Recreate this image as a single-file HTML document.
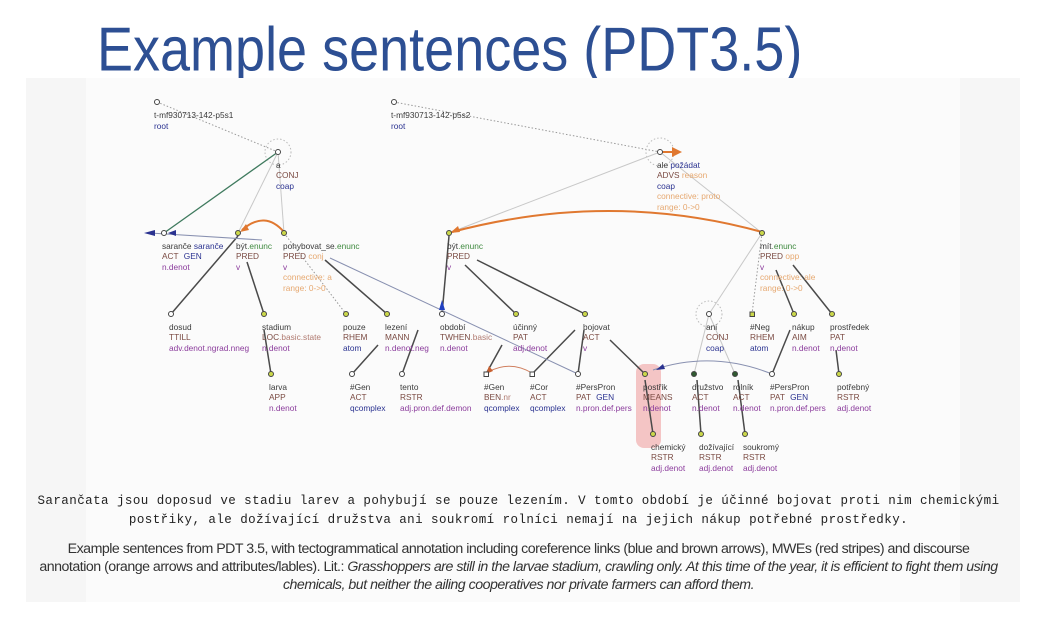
<!DOCTYPE html>
<html><head><meta charset="utf-8"><style>
body{margin:0;width:1037px;height:624px;background:#fff;overflow:hidden;position:relative;font-family:"Liberation Sans",sans-serif}
.title{position:absolute;left:97px;top:14px;font-size:54px;color:#2d4f93;transform:scaleY(1.15);transform-origin:0 0}
.panel{position:absolute;left:26px;top:78px;width:994px;height:524px;background:#f6f6f6}
.inner{position:absolute;left:60px;top:0;width:874px;height:524px;background:#fbfbfb}
svg{position:absolute;left:0;top:0}
svg text{font-family:"Liberation Sans",sans-serif;font-size:8.3px}
.l{fill:#3a3a3a}.f{fill:#7a4a42}.p{fill:#8b3c9c}.g{fill:#3f8a3f}.o{fill:#e6a870}.b{fill:#2a3290}
.mono{position:absolute;left:0;width:1037px;text-align:center;font-family:"Liberation Mono",monospace;font-size:12.5px;letter-spacing:0.45px;color:#222;white-space:nowrap}
.cap{position:absolute;left:0;width:1037px;text-align:center;font-size:14.2px;color:#333;letter-spacing:-0.5px;white-space:nowrap}
</style></head><body>
<div class="title">Example sentences (PDT3.5)</div>
<div class="panel"><div class="inner"></div></div>
<svg width="1037" height="624">
<rect x="636" y="364" width="25" height="84" rx="8" fill="#f2b8b8" opacity="0.8"/>
<g stroke="#999" stroke-dasharray="1.5,2" fill="none">
<line x1="157" y1="102" x2="278" y2="152"/>
<line x1="394" y1="102" x2="660" y2="152"/>
<line x1="284" y1="233" x2="346" y2="314"/>
<line x1="762" y1="233" x2="752" y2="314"/>
<circle cx="278" cy="152" r="13" stroke="#bbb"/>
<circle cx="660" cy="152" r="14" stroke="#bbb"/>
<circle cx="709" cy="314" r="13" stroke="#bbb"/>
</g>
<g stroke="#c8c8c8" stroke-width="1" fill="none">
<line x1="278" y1="152" x2="238" y2="233"/>
<line x1="278" y1="152" x2="284" y2="233"/>
<line x1="660" y1="152" x2="449" y2="233"/>
<line x1="660" y1="152" x2="762" y2="233"/>
<line x1="762" y1="233" x2="709" y2="314"/>
<line x1="709" y1="314" x2="694" y2="374"/>
<line x1="709" y1="314" x2="735" y2="374"/>
</g>
<line x1="278" y1="152" x2="164" y2="233" stroke="#3f7a5e" stroke-width="1.3"/>
<g stroke="#4a4a4a" stroke-width="1.5" fill="none">
<line x1="238" y1="236" x2="171" y2="314"/>
<line x1="247" y1="262" x2="264" y2="314"/>
<line x1="264" y1="330" x2="271" y2="374"/>
<line x1="325" y1="260" x2="387" y2="314"/>
<line x1="378" y1="345" x2="352" y2="374"/>
<line x1="418" y1="330" x2="402" y2="374"/>
<line x1="449" y1="236" x2="442" y2="314"/>
<line x1="465" y1="265" x2="516" y2="314"/>
<line x1="477" y1="260" x2="585" y2="314"/>
<line x1="502" y1="345" x2="486" y2="374"/>
<line x1="575" y1="330" x2="532" y2="374"/>
<line x1="584" y1="330" x2="578" y2="374"/>
<line x1="610" y1="340" x2="645" y2="374"/>
<line x1="645" y1="380" x2="653" y2="434"/>
<line x1="697" y1="380" x2="701" y2="434"/>
<line x1="738" y1="380" x2="745" y2="434"/>
<line x1="776" y1="270" x2="794" y2="314"/>
<line x1="793" y1="265" x2="832" y2="314"/>
<line x1="790" y1="330" x2="772" y2="374"/>
<line x1="836" y1="350" x2="839" y2="374"/>
</g>
<g stroke="#8890b0" stroke-width="1" fill="none">
<line x1="262" y1="240" x2="150" y2="233"/>
<line x1="330" y1="258" x2="578" y2="374"/>
<path d="M772 374 Q712 350 653 370"/>
</g>
<polygon points="144,233 155,230 155,236" fill="#2a3290"/>
<polygon points="168,233 176,230 176,236" fill="#2a3290"/>
<polygon points="442,300 439,310 445,310" fill="#2040c0"/>
<polygon points="656,370 663,364 665,369" fill="#2a3290"/>
<g fill="none" stroke="#e07830" stroke-width="2">
<path d="M284 232 Q265 210 242 230"/>
<path d="M762 232 Q610 190 452 232"/>
<line x1="662" y1="152" x2="676" y2="152"/>
</g>
<polygon points="240,232 246,224 249,230" fill="#e07830"/>
<polygon points="450,233 458,226 460,232" fill="#e07830"/>
<polygon points="682,152 672,147 672,157" fill="#e07830"/>
<path d="M532 373 Q510 360 488 372" stroke="#d08060" fill="none"/>
<polygon points="486,374 489,366 493,371" fill="#c86030"/>
<g stroke="#444" stroke-width="1">
<g fill="#fff">
<circle cx="157" cy="102" r="2.5"/><circle cx="394" cy="102" r="2.5"/>
<circle cx="278" cy="152" r="2.5"/><circle cx="660" cy="152" r="2.5"/>
<circle cx="164" cy="233" r="2.5"/><circle cx="171" cy="314" r="2.5"/>
<circle cx="442" cy="314" r="2.5"/><circle cx="709" cy="314" r="2.5"/>
<circle cx="352" cy="374" r="2.5"/><circle cx="402" cy="374" r="2.5"/>
<rect x="484" y="372" width="4.5" height="4.5"/><rect x="530" y="372" width="4.5" height="4.5"/>
<circle cx="578" cy="374" r="2.5"/><circle cx="772" cy="374" r="2.5"/>
</g>
<g fill="#cbd84a">
<circle cx="238" cy="233" r="2.5"/><circle cx="284" cy="233" r="2.5"/>
<circle cx="449" cy="233" r="2.5"/><circle cx="762" cy="233" r="2.5"/>
<circle cx="264" cy="314" r="2.5"/><circle cx="346" cy="314" r="2.5"/>
<circle cx="387" cy="314" r="2.5"/><circle cx="516" cy="314" r="2.5"/>
<circle cx="585" cy="314" r="2.5"/><rect x="750" y="312" width="4.5" height="4.5"/>
<circle cx="794" cy="314" r="2.5"/><circle cx="832" cy="314" r="2.5"/>
<circle cx="271" cy="374" r="2.5"/><circle cx="645" cy="374" r="2.5"/>
<circle cx="839" cy="374" r="2.5"/><circle cx="653" cy="434" r="2.5"/>
<circle cx="701" cy="434" r="2.5"/><circle cx="745" cy="434" r="2.5"/>
</g>
<g fill="#2f5a30"><circle cx="694" cy="374" r="2.5"/><circle cx="735" cy="374" r="2.5"/></g>
</g>
<text x="154" y="118" class="l">t-mf930713-142-p5s1</text><text x="154" y="129" class="b">root</text>
<text x="391" y="118" class="l">t-mf930713-142-p5s2</text><text x="391" y="129" class="b">root</text>
<text x="276" y="168" class="l">a</text><text x="276" y="178" class="f">CONJ</text><text x="276" y="189" class="b">coap</text>
<text x="657" y="168"><tspan class="l">ale</tspan> <tspan class="b">požádat</tspan></text>
<text x="657" y="178"><tspan class="f">ADVS</tspan> <tspan class="o">reason</tspan></text>
<text x="657" y="189" class="b">coap</text><text x="657" y="199" class="o">connective: proto</text><text x="657" y="210" class="o">range: 0-&gt;0</text>
<text x="162" y="249"><tspan class="l">saranče</tspan> <tspan class="b">saranče</tspan></text>
<text x="162" y="259"><tspan class="f">ACT</tspan> <tspan class="b" dx="3">GEN</tspan></text><text x="162" y="270" class="p">n.denot</text>
<text x="236" y="249"><tspan class="l">být</tspan><tspan class="g">.enunc</tspan></text><text x="236" y="259" class="f">PRED</text><text x="236" y="270" class="p">v</text>
<text x="283" y="249"><tspan class="l">pohybovat_se</tspan><tspan class="g">.enunc</tspan></text>
<text x="283" y="259"><tspan class="f">PRED</tspan> <tspan class="o">conj</tspan></text><text x="283" y="270" class="p">v</text>
<text x="283" y="280" class="o">connective: a</text><text x="283" y="291" class="o">range: 0-&gt;0</text>
<text x="447" y="249"><tspan class="l">být</tspan><tspan class="g">.enunc</tspan></text><text x="447" y="259" class="f">PRED</text><text x="447" y="270" class="p">v</text>
<text x="760" y="249"><tspan class="l">mít</tspan><tspan class="g">.enunc</tspan></text>
<text x="760" y="259"><tspan class="f">PRED</tspan> <tspan class="o">opp</tspan></text><text x="760" y="270" class="p">v</text>
<text x="760" y="280" class="o">connective: ale</text><text x="760" y="291" class="o">range: 0-&gt;0</text>
<text x="169" y="330" class="l">dosud</text><text x="169" y="340" class="f">TTILL</text><text x="169" y="351" class="p">adv.denot.ngrad.nneg</text>
<text x="262" y="330" class="l">stadium</text><text x="262" y="340"><tspan class="f">LOC</tspan><tspan style="fill:#b07a70">.basic.state</tspan></text><text x="262" y="351" class="p">n.denot</text>
<text x="343" y="330" class="l">pouze</text><text x="343" y="340" class="f">RHEM</text><text x="343" y="351" class="b">atom</text>
<text x="385" y="330" class="l">lezení</text><text x="385" y="340" class="f">MANN</text><text x="385" y="351" class="p">n.denot.neg</text>
<text x="440" y="330" class="l">období</text><text x="440" y="340"><tspan class="f">TWHEN</tspan><tspan style="fill:#b07a70">.basic</tspan></text><text x="440" y="351" class="p">n.denot</text>
<text x="513" y="330" class="l">účinný</text><text x="513" y="340" class="f">PAT</text><text x="513" y="351" class="p">adj.denot</text>
<text x="583" y="330" class="l">bojovat</text><text x="583" y="340" class="f">ACT</text><text x="583" y="351" class="p">v</text>
<text x="706" y="330" class="l">ani</text><text x="706" y="340" class="f">CONJ</text><text x="706" y="351" class="b">coap</text>
<text x="750" y="330" class="l">#Neg</text><text x="750" y="340" class="f">RHEM</text><text x="750" y="351" class="b">atom</text>
<text x="792" y="330" class="l">nákup</text><text x="792" y="340" class="f">AIM</text><text x="792" y="351" class="p">n.denot</text>
<text x="830" y="330" class="l">prostředek</text><text x="830" y="340" class="f">PAT</text><text x="830" y="351" class="p">n.denot</text>
<text x="269" y="390" class="l">larva</text><text x="269" y="400" class="f">APP</text><text x="269" y="411" class="p">n.denot</text>
<text x="350" y="390" class="l">#Gen</text><text x="350" y="400" class="f">ACT</text><text x="350" y="411" class="b">qcomplex</text>
<text x="400" y="390" class="l">tento</text><text x="400" y="400" class="f">RSTR</text><text x="400" y="411" class="p">adj.pron.def.demon</text>
<text x="484" y="390" class="l">#Gen</text><text x="484" y="400"><tspan class="f">BEN</tspan><tspan style="fill:#b07a70">.nr</tspan></text><text x="484" y="411" class="b">qcomplex</text>
<text x="530" y="390" class="l">#Cor</text><text x="530" y="400" class="f">ACT</text><text x="530" y="411" class="b">qcomplex</text>
<text x="576" y="390" class="l">#PersPron</text><text x="576" y="400"><tspan class="f">PAT</tspan> <tspan class="b" dx="3">GEN</tspan></text><text x="576" y="411" class="p">n.pron.def.pers</text>
<text x="643" y="390" class="l">postřik</text><text x="643" y="400" class="f">MEANS</text><text x="643" y="411" class="p">n.denot</text>
<text x="692" y="390" class="l">družstvo</text><text x="692" y="400" class="f">ACT</text><text x="692" y="411" class="p">n.denot</text>
<text x="733" y="390" class="l">rolník</text><text x="733" y="400" class="f">ACT</text><text x="733" y="411" class="p">n.denot</text>
<text x="770" y="390" class="l">#PersPron</text><text x="770" y="400"><tspan class="f">PAT</tspan> <tspan class="b" dx="3">GEN</tspan></text><text x="770" y="411" class="p">n.pron.def.pers</text>
<text x="837" y="390" class="l">potřebný</text><text x="837" y="400" class="f">RSTR</text><text x="837" y="411" class="p">adj.denot</text>
<text x="651" y="450" class="l">chemický</text><text x="651" y="460" class="f">RSTR</text><text x="651" y="471" class="p">adj.denot</text>
<text x="699" y="450" class="l">dožívající</text><text x="699" y="460" class="f">RSTR</text><text x="699" y="471" class="p">adj.denot</text>
<text x="743" y="450" class="l">soukromý</text><text x="743" y="460" class="f">RSTR</text><text x="743" y="471" class="p">adj.denot</text>
</svg>
<div class="mono" style="top:494px">Sarančata jsou doposud ve stadiu larev a pohybují se pouze lezením. V tomto období je účinné bojovat proti nim chemickými</div>
<div class="mono" style="top:513px">postřiky, ale dožívající družstva ani soukromí rolníci nemají na jejich nákup potřebné prostředky.</div>
<div class="cap" style="top:541px">Example sentences from PDT 3.5, with tectogrammatical annotation including coreference links (blue and brown arrows), MWEs (red stripes) and discourse</div>
<div class="cap" style="top:559px">annotation (orange arrows and attributes/lables). Lit.: <i>Grasshoppers are still in the larvae stadium, crawling only. At this time of the year, it is efficient to fight them using</i></div>
<div class="cap" style="top:577px"><i>chemicals, but neither the ailing cooperatives nor private farmers can afford them.</i></div>
</body></html>
